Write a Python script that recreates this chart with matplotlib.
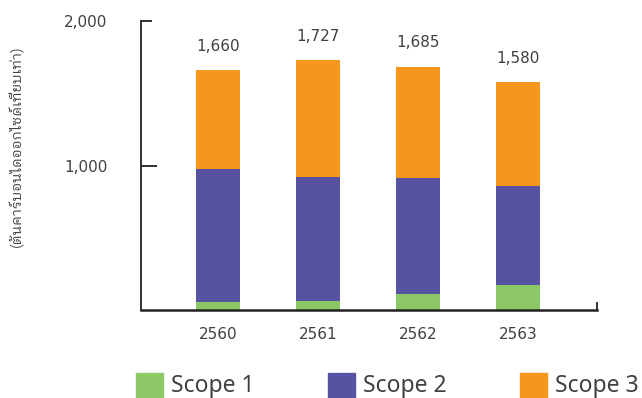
import matplotlib
matplotlib.use('Agg')
import matplotlib.pyplot as plt
from matplotlib import font_manager
from matplotlib.ft2font import FT2Font
from matplotlib.patches import Rectangle
import numpy as np

years = ['2560', '2561', '2562', '2563']
totals = [1660, 1727, 1685, 1580]
scope1 = [58, 59, 113, 176]
scope2 = [917, 860, 799, 682]
scope3 = [t - a - b for t, a, b in zip(totals, scope1, scope2)]
series_names = ['Scope 1', 'Scope 2', 'Scope 3']
colors = ['#8cc866', '#5852a3', '#f7961f']
ylabel = '(ตันคาร์บอนไดออกไซด์เทียบเท่า)'
text_color = '#404040'


# find an installed font that can draw Thai, looped style first
def thai_font():
    found = []
    for f in font_manager.fontManager.ttflist:
        try:
            if 0x0E15 in FT2Font(f.fname).get_charmap():
                found.append(f.name)
        except Exception:
            pass
    if not found:
        return 'DejaVu Sans'
    looped = [n for n in found if 'Looped' in n]
    return (looped or found)[0]


fig = plt.figure(figsize=(6.42, 3.98), dpi=100)
ax = fig.add_axes([141 / 642, 1 - 310 / 398, 456 / 642, 289 / 398])

x = np.arange(len(years))
bottom = np.zeros(len(years))
for vals, c in zip([scope1, scope2, scope3], colors):
    ax.bar(x, vals, 0.44, bottom=bottom, color=c, zorder=2)
    bottom += vals

for xi, t in zip(x, totals):
    ax.annotate(f'{t:,}', (xi, t), xytext=(0, 17), textcoords='offset points',
                ha='center', va='center', fontsize=11, color=text_color)

ax.set_xlim(-0.77, 3.79)
ax.set_ylim(0, 2000)
ax.set_xticks(x, years)
ax.set_yticks([1000], ['1,000'])
ax.set_yticks([2000], ['2,000'], minor=True)
ax.tick_params(axis='y', which='major', direction='in', length=11.5, width=1.3,
               pad=24, labelsize=11, labelcolor=text_color, color='#222222')
ax.tick_params(axis='y', which='minor', direction='in', length=8, width=1.3,
               pad=24, labelsize=11, labelcolor=text_color, color='#222222')
ax.tick_params(axis='x', length=0, pad=12, labelsize=11, labelcolor=text_color)

for s in ['top', 'right']:
    ax.spines[s].set_visible(False)
ax.spines['left'].set_linewidth(1.3)
ax.spines['bottom'].set_linewidth(1.8)
ax.spines['left'].set_color('#222222')
ax.spines['bottom'].set_color('#222222')
# small end cap on the right of the x axis
ax.plot([1, 1], [0, 0.025], transform=ax.transAxes, color='#222222',
        lw=1.3, clip_on=False)

fig.text(17 / 642, 1 - 146 / 398, ylabel, rotation=90, ha='center', va='center',
         fontsize=10, color=text_color, family=[thai_font(), 'DejaVu Sans'])

# legend along the bottom
for name, c, px in zip(series_names, colors, [136, 328, 520]):
    fig.add_artist(Rectangle((px / 642, 1 - 398 / 398), 27 / 642, 25 / 398,
                             transform=fig.transFigure, color=c))
    fig.text((px + 35) / 642, 1 - 386 / 398, name, ha='left', va='center',
             fontsize=16.5, color=text_color, family='Noto Sans')

fig.savefig('out.png', dpi=100)
